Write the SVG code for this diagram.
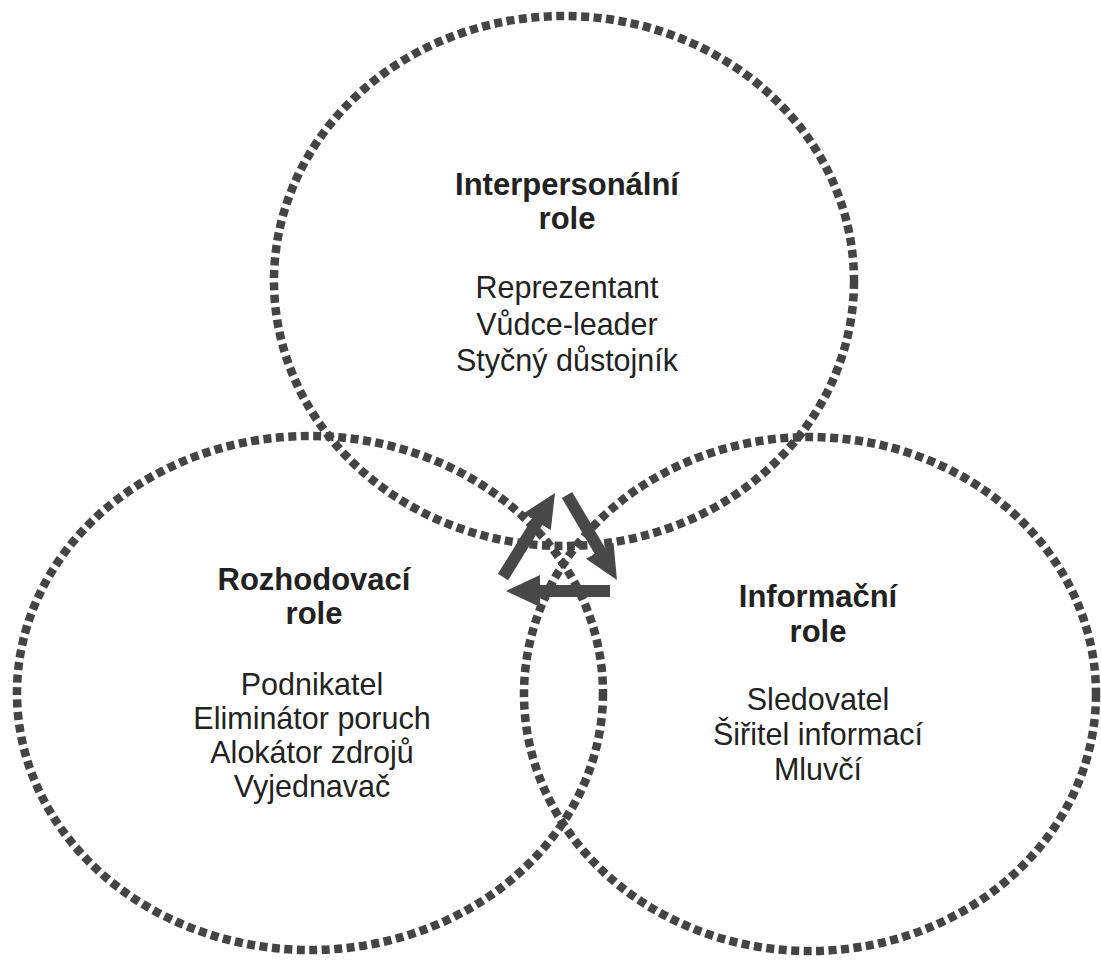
<svg xmlns="http://www.w3.org/2000/svg" width="1101" height="971" viewBox="0 0 1101 971">
<style>
.ring{fill:none;stroke:#444;stroke-width:8.5;stroke-dasharray:8 4.5}
.t{font-family:"Liberation Sans",Arial,sans-serif;fill:#222;text-anchor:middle}
.h{font-weight:bold;font-size:31px}
.b{font-size:30.5px}
.arr{stroke:#484848;stroke-width:12;fill:none}
</style>
<defs>
<marker id="ah" markerUnits="userSpaceOnUse" viewBox="0 0 34 32" markerWidth="34" markerHeight="32" refX="10" refY="16" orient="auto">
<path d="M0,0 L34,16 L0,32 Z" fill="#484848"/>
</marker>
</defs>
<rect width="1101" height="971" fill="#fff"/>
<g id="interpersonal">
<ellipse class="ring" cx="564" cy="281" rx="290" ry="265"/>
<text class="t h" x="567" y="195">Interpersonální</text>
<text class="t h" x="567" y="229">role</text>
<text class="t b" x="567" y="298">Reprezentant</text>
<text class="t b" x="567" y="335">Vůdce-leader</text>
<text class="t b" x="567" y="371">Styčný důstojník</text>
</g>
<g id="rozhodovaci">
<ellipse class="ring" cx="310" cy="693" rx="293" ry="257"/>
<text class="t h" x="314" y="590">Rozhodovací</text>
<text class="t h" x="314" y="624">role</text>
<text class="t b" x="312" y="695">Podnikatel</text>
<text class="t b" x="312" y="729">Eliminátor poruch</text>
<text class="t b" x="312" y="763">Alokátor zdrojů</text>
<text class="t b" x="312" y="797">Vyjednavač</text>
</g>
<g id="informacni">
<ellipse class="ring" cx="810" cy="694" rx="286" ry="257"/>
<text class="t h" x="818" y="607">Informační</text>
<text class="t h" x="818" y="642">role</text>
<text class="t b" x="818" y="710">Sledovatel</text>
<text class="t b" x="818" y="745">Šiřitel informací</text>
<text class="t b" x="818" y="780">Mluvčí</text>
</g>
<g id="connectors">
<line class="arr" x1="503" y1="577" x2="542.4" y2="513.3" marker-end="url(#ah)"/>
<line class="arr" x1="567" y1="495" x2="604.8" y2="559.3" marker-end="url(#ah)"/>
<line class="arr" x1="610" y1="591" x2="530" y2="591" marker-end="url(#ah)"/>
</g>
</svg>
